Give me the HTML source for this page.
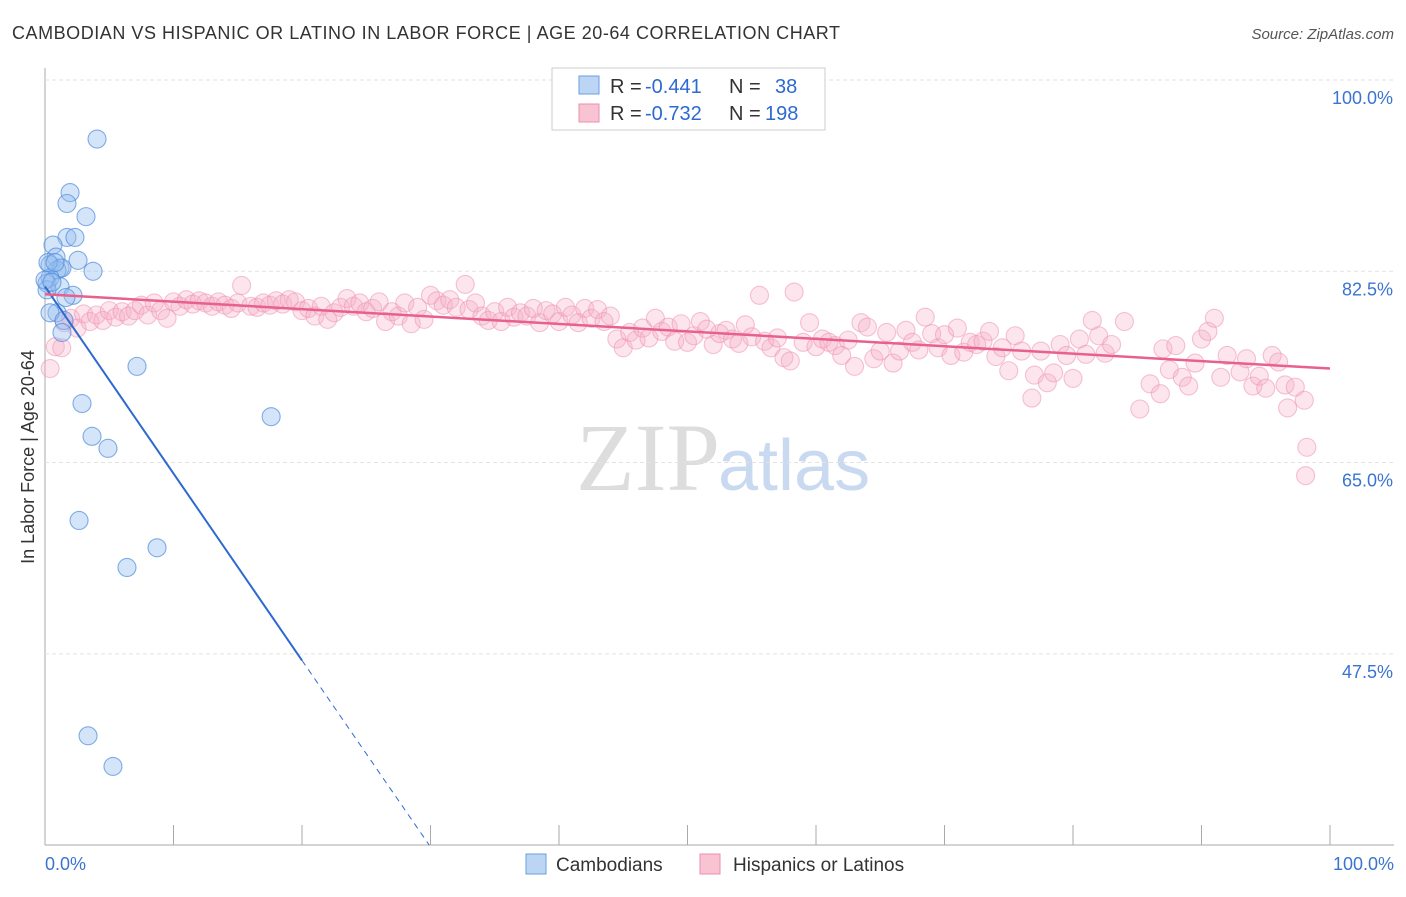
<!DOCTYPE html>
<html><head><meta charset="utf-8"><style>
body{margin:0;background:#fff;font-family:"Liberation Sans",sans-serif}
</style></head><body>
<svg id="c" width="1406" height="892" xmlns="http://www.w3.org/2000/svg">
<text x="12" y="39" font-size="18" fill="#333" textLength="828" lengthAdjust="spacing">CAMBODIAN VS HISPANIC OR LATINO IN LABOR FORCE | AGE 20-64 CORRELATION CHART</text>
<text x="1394" y="39" font-size="15" fill="#555" font-style="italic" text-anchor="end">Source: ZipAtlas.com</text>
<text x="720" y="490" font-size="96" fill="#ddd" text-anchor="end" font-family="Liberation Serif">ZIP</text>
<text x="718" y="490" font-size="72" fill="#c9daf0">atlas</text>
<text transform="translate(34,457) rotate(-90)" font-size="18" fill="#333" text-anchor="middle">In Labor Force | Age 20-64</text>
<g id="grid"></g><g id="pts"></g><g id="trend"></g>
<rect x="552" y="68" width="273" height="62" fill="#fff" stroke="#ccc"/>
<rect x="579" y="76" width="20" height="18" fill="#bcd5f5" stroke="#6a9fe0"/>
<rect x="579" y="104" width="20" height="18" fill="#f8c4d4" stroke="#ee8eab"/>
<g font-size="20">
<text x="610" y="93" fill="#333">R =</text><text x="645" y="93" fill="#2d6ad0">-0.441</text>
<text x="729" y="93" fill="#333">N =</text><text x="775" y="93" fill="#2d6ad0">38</text></g>
<g font-size="20">
<text x="610" y="120" fill="#333">R =</text><text x="645" y="120" fill="#2d6ad0">-0.732</text>
<text x="729" y="120" fill="#333">N =</text><text x="765" y="120" fill="#2d6ad0">198</text></g>
<rect x="526" y="854" width="20" height="20" fill="#bcd5f5" stroke="#6a9fe0"/>
<text x="556" y="871" font-size="19" fill="#333">Cambodians</text>
<rect x="700" y="854" width="20" height="20" fill="#f8c4d4" stroke="#ee8eab"/>
<text x="733" y="871" font-size="19" fill="#333">Hispanics or Latinos</text>
<text x="45" y="870" font-size="18" fill="#3b74d0">0.0%</text>
<text x="1394" y="870" font-size="18" fill="#3b74d0" text-anchor="end">100.0%</text>
</svg>
<script>
const yTicks=[100,82.5,65,47.5];
const yTickLabels=["100.0%","82.5%","65.0%","47.5%"];
const xTicks=[0,10,20,30,40,50,60,70,80,90,100];
const blueX=[4.05,1.95,1.71,3.19,1.71,2.33,0.62,0.86,2.57,0.39,1.17,0.93,1.32,3.74,0.39,0.16,1.17,0.16,2.18,1.63,0.93,0.39,1.48,1.32,7.16,2.88,17.6,3.66,4.9,2.65,8.72,6.38,3.35,5.29,0,0.54,0.23,0.78];
const blueY=[94.6,89.7,88.7,87.5,85.6,85.6,84.9,83.8,83.5,83.1,82.8,82.6,82.8,82.5,81.9,81.4,81.1,80.8,80.3,80.1,78.7,78.7,78.0,76.9,73.8,70.4,69.2,67.4,66.3,59.7,57.2,55.4,40.0,37.2,81.7,81.5,83.3,83.3];
const pinkPairs=[1.5,77.8,2,78.2,2.5,77.3,3,78.6,3.5,77.9,4,78.5,4.5,78.0,5,78.9,5.5,78.3,6,78.8,6.5,78.4,7,78.9,7.5,79.4,8,78.5,8.5,79.6,9,78.9,9.5,78.2,10,79.7,10.5,79.3,11,79.9,11.5,79.5,12,79.8,12.5,79.6,13,79.3,13.5,79.7,14,79.4,14.5,79.1,15,79.6,15.3,81.2,16,79.3,16.5,79.2,17,79.6,17.5,79.4,18,79.8,18.5,79.5,19,79.9,19.5,79.7,20,78.9,20.5,79.1,21,78.4,21.5,79.3,22,78.1,22.5,78.7,23,79.2,23.5,80.0,24,79.3,24.5,79.6,25,78.8,25.5,79.1,26,79.7,26.5,77.9,27,78.8,27.5,78.4,28,79.6,28.5,77.7,29,79.2,29.5,78.1,30,80.3,30.5,79.8,31,79.4,31.5,79.9,32,79.2,32.7,81.3,33,79.0,33.5,79.6,34,78.4,34.5,78.0,35,78.8,35.5,77.9,36,79.2,36.5,78.3,37,78.7,37.5,78.4,38,79.1,38.5,77.8,39,78.9,39.5,78.6,40,77.9,40.5,79.2,41,78.5,41.5,77.8,42,79.1,42.5,78.2,43,79.0,43.5,77.9,44,78.4,44.5,76.3,45,75.5,45.5,76.9,46,76.2,46.5,77.3,47,76.4,47.5,78.2,48,77.0,48.5,77.4,49,76.1,49.5,77.7,50,76.0,50.5,76.6,51,77.9,51.5,77.2,52,75.8,52.5,76.8,53,77.1,53.5,76.3,54,75.9,54.5,77.6,55,76.5,55.6,80.3,56,76.1,56.5,75.5,57,76.4,57.5,74.6,58,74.3,58.3,80.6,59,76.0,59.5,77.8,60,75.6,60.5,76.3,61,76.0,61.5,75.7,62,74.8,62.5,76.2,63,73.8,63.5,77.8,64,77.4,64.5,74.5,65,75.2,65.5,76.9,66,74.1,66.5,75.2,67,77.1,67.5,76.0,68,75.3,68.5,78.3,69,76.8,69.5,75.5,70,76.7,70.5,74.8,71,77.3,71.5,75.1,72,76.0,72.5,75.8,73,76.1,73.5,77.0,74,74.7,74.5,75.5,75,73.4,75.5,76.6,76,75.2,76.8,70.9,77,73.0,77.5,75.2,78,72.3,78.5,73.2,79,75.8,79.5,74.8,80,72.7,80.5,76.3,81,74.9,81.5,78.0,82,76.6,82.5,75.0,83,75.8,84,77.9,85.2,69.9,86,72.2,86.8,71.3,87,75.4,87.5,73.5,88,75.7,88.5,72.8,89,72.0,89.5,74.1,90,76.3,90.5,77.0,91,78.2,91.5,72.8,92,74.8,93,73.3,93.5,74.5,94,72.0,94.5,72.9,95,71.8,95.5,74.8,96,74.2,96.5,72.1,96.7,70.0,97.3,71.9,98,70.7,98.2,66.4,98.1,63.8,0.4,73.6,0.8,75.6,1.3,75.5];
const blueTrend=[0,81.1,20,46.9,29.9,30];
const pinkTrend=[0,80.4,100,73.6];
const NS="http://www.w3.org/2000/svg";
const X=v=>45+v*12.85, Y=v=>80+(100-v)*10.93;
function mk(t,a,p){const e=document.createElementNS(NS,t);for(const k in a)e.setAttribute(k,a[k]);p.appendChild(e);return e;}
const g=document.getElementById('grid');
let ax=mk('line',{x1:45,y1:68,x2:45,y2:845,stroke:'#aaa'},g);

let bx=mk('line',{x1:45,y1:845,x2:1394,y2:845,stroke:'#aaa'},g);

yTicks.forEach((t,i)=>{
 const l=mk('line',{x1:45,y1:Y(t),x2:1394,y2:Y(t),stroke:'#e2e2e2','stroke-dasharray':'4,3'},g);
 
 const tx=mk('text',{x:1393,y:Y(t)+24,'font-size':18,fill:'#3b74d0','text-anchor':'end'},g);
 tx.textContent=yTickLabels[i];
 
});
xTicks.forEach(t=>{
 const l=mk('line',{x1:X(t),y1:825,x2:X(t),y2:845,stroke:'#aaa'},g);
 
});
const p=document.getElementById('pts');
for(let i=0;i<pinkPairs.length;i+=2){
 const c=mk('circle',{cx:X(pinkPairs[i]),cy:Y(pinkPairs[i+1]),r:9,fill:'rgba(246,175,200,0.32)',stroke:'rgba(238,145,178,0.55)','stroke-width':1.1},p);
 
}
blueX.forEach((v,i)=>{
 const c=mk('circle',{cx:X(v),cy:Y(blueY[i]),r:9,fill:'rgba(150,190,240,0.4)',stroke:'rgba(80,140,220,0.7)','stroke-width':1.1},p);
 
});
const tr=document.getElementById('trend');
let b1=mk('line',{x1:X(blueTrend[0]),y1:Y(blueTrend[1]),x2:X(blueTrend[2]),y2:Y(blueTrend[3]),stroke:'#2d6ad0','stroke-width':2},tr);

let b2=mk('line',{x1:X(blueTrend[2]),y1:Y(blueTrend[3]),x2:X(blueTrend[4]),y2:Y(blueTrend[5]),stroke:'#2d6ad0','stroke-width':1,'stroke-dasharray':'6,5'},tr);

let p1=mk('line',{x1:X(pinkTrend[0]),y1:Y(pinkTrend[1]),x2:X(pinkTrend[2]),y2:Y(pinkTrend[3]),stroke:'#e8608c','stroke-width':2.5},tr);

</script>
</body></html>
